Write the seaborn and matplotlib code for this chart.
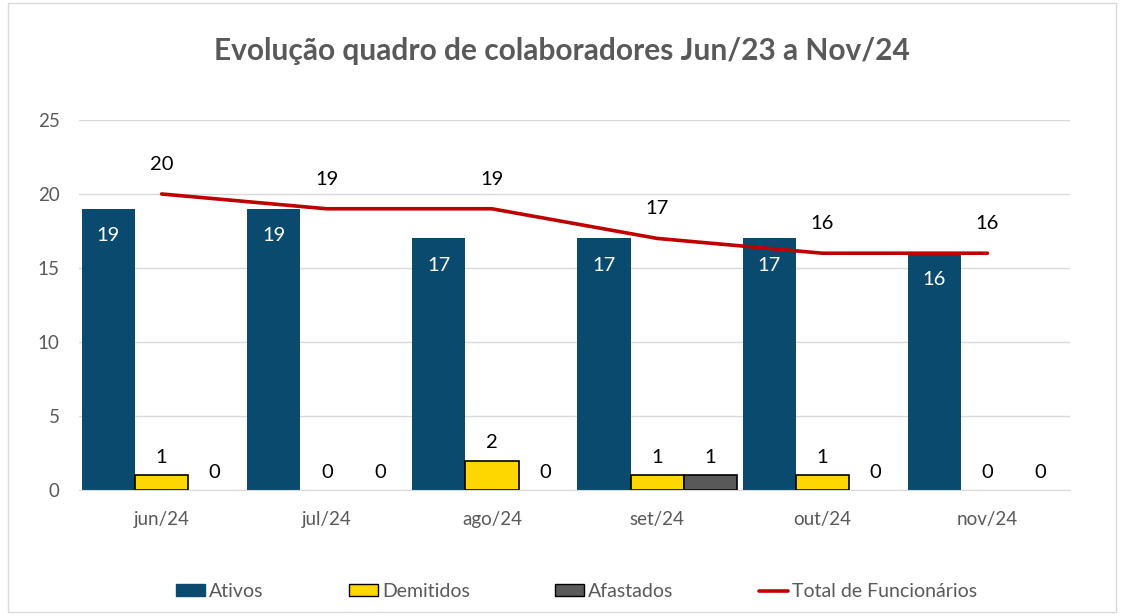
import numpy as np
import pandas as pd
import matplotlib
matplotlib.use('Agg')
import matplotlib.pyplot as plt
import seaborn as sns
from matplotlib.patches import Rectangle
from matplotlib.lines import Line2D

months = ['jun/24', 'jul/24', 'ago/24', 'set/24', 'out/24', 'nov/24']
ativos = [19, 19, 17, 17, 17, 16]
demitidos = [1, 0, 2, 1, 1, 0]
afastados = [0, 0, 0, 1, 0, 0]
total = [20, 19, 19, 17, 16, 16]

series = ['Ativos', 'Demitidos', 'Afastados']
colors = {'Ativos': '#0A4A6E', 'Demitidos': '#FFD700', 'Afastados': '#595959'}
line_color = '#C00000'
text_gray = '#595959'

sns.set_style('white')
plt.rcParams['font.family'] = ['Lato', 'DejaVu Sans']

df = pd.DataFrame({'mes': months * 3,
                   'serie': ['Ativos'] * 6 + ['Demitidos'] * 6 + ['Afastados'] * 6,
                   'valor': ativos + demitidos + afastados})

fig = plt.figure(figsize=(11.24, 6.15), dpi=100)
ax = fig.add_axes([0.0703, 0.203, 0.8817, 0.602])

sns.barplot(ax=ax, data=df, x='mes', y='valor', hue='serie', order=months,
            hue_order=series, palette=colors, width=0.965, gap=0,
            legend=False, saturation=1, edgecolor='black', linewidth=1.2)

# style bars: no edge on Ativos, hide zero-height bars
for i, cont in enumerate(ax.containers):
    name = series[i]
    for p in cont.patches:
        if name == 'Ativos':
            p.set_edgecolor(colors['Ativos'])
            p.set_linewidth(0)
        if p.get_height() == 0:
            p.set_linewidth(0)
    if name == 'Ativos':
        for p in cont.patches:
            ax.text(p.get_x() + p.get_width() / 2, p.get_height() - 1.8,
                    f'{int(p.get_height())}', ha='center', va='center',
                    color='white', fontsize=14.5)
    else:
        for p in cont.patches:
            ax.text(p.get_x() + p.get_width() / 2, p.get_height() + 1.2,
                    f'{int(p.get_height())}', ha='center', va='center',
                    color='black', fontsize=14.5)

x = np.arange(len(months))
sns.lineplot(ax=ax, x=x, y=total, color=line_color, linewidth=2.6, legend=False)
for xi, v in zip(x, total):
    ax.text(xi, v + 2.0, f'{v}', ha='center', va='center', color='black', fontsize=14.5)

ax.set_ylim(0, 25)
ax.set_xlim(-0.5, 5.5)
ax.set_yticks(range(0, 26, 5))
ax.yaxis.grid(True, color='#D9D9D9', linewidth=1)
ax.set_axisbelow(True)
for s in ['top', 'right', 'left']:
    ax.spines[s].set_visible(False)
ax.spines['bottom'].set_color('#D9D9D9')
ax.tick_params(axis='both', length=0, colors=text_gray, labelsize=13.5)
ax.tick_params(axis='x', pad=15)
ax.tick_params(axis='y', pad=14)
ax.set_xlabel('')
ax.set_ylabel('')

fig.suptitle('Evolução quadro de colaboradores Jun/23 a Nov/24', y=0.94,
             fontsize=21.5, fontweight='bold', color=text_gray)

handles = [Rectangle((0, 0), 1, 1, facecolor=colors['Ativos'], edgecolor=colors['Ativos']),
           Rectangle((0, 0), 1, 1, facecolor=colors['Demitidos'], edgecolor='black'),
           Rectangle((0, 0), 1, 1, facecolor=colors['Afastados'], edgecolor='black'),
           Line2D([0], [0], color=line_color, linewidth=2.6)]
fig.legend(handles, series + ['Total de Funcionários'], loc='center',
           bbox_to_anchor=(0.513, 0.038), ncol=4, frameon=False, fontsize=14,
           labelcolor=text_gray, handlelength=1.5, handleheight=0.6,
           columnspacing=4.4, handletextpad=0.2)

fig.patches.append(Rectangle((0.007, 0.005), 0.986, 0.99, transform=fig.transFigure,
                             fill=False, edgecolor='#D9D9D9', linewidth=1))

fig.savefig('out.png', dpi=100)
